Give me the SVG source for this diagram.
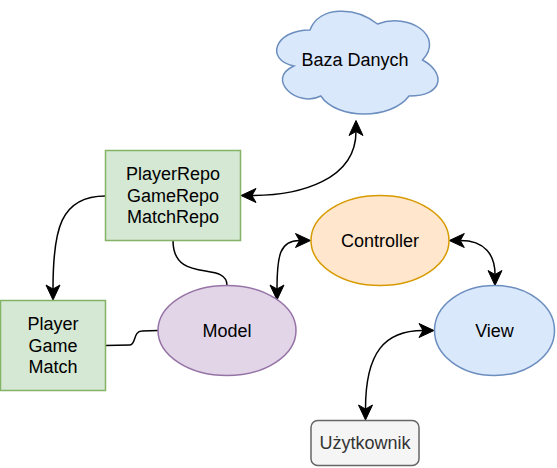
<svg xmlns="http://www.w3.org/2000/svg" width="557" height="468" viewBox="0 0 557 468">
<style>
  text { font-family: "Liberation Sans", Arial, sans-serif; font-size: 18px; fill: #000000; text-anchor: middle; }
  .edge { fill: none; stroke: #000000; stroke-width: 1.5; }
  .blue { fill: #dae8fc; stroke: #6c8ebf; stroke-width: 1.5; }
  .green { fill: #d5e8d4; stroke: #82b366; stroke-width: 1.5; }
  .purple { fill: #e1d5e7; stroke: #9673a6; stroke-width: 1.5; }
  .orange { fill: #ffe6cc; stroke: #d79b00; stroke-width: 1.5; }
  .grey { fill: #f5f5f5; stroke: #666666; stroke-width: 1.5; }
</style>
<defs>
  <marker id="arrow" markerUnits="userSpaceOnUse" markerWidth="30" markerHeight="30" refX="0" refY="0" orient="auto-start-reverse" overflow="visible" viewBox="-15 -15 30 30">
    <path d="M 11 0 L -4 -7 L 0 0 L -4 7 Z" fill="#000000" stroke="#000000" stroke-width="1"/>
  </marker>
</defs>
<rect width="557" height="468" fill="#ffffff"/>
<g id="connectors">
  <path class="edge" d="M 356 131.5 C 356 180, 300 195.5, 252 195.5" marker-start="url(#arrow)" marker-end="url(#arrow)"/>
  <path class="edge" d="M 105.5 196 C 60 196, 53 230, 53 289" marker-end="url(#arrow)"/>
  <path class="edge" d="M 173 240.5 C 173 285, 227 260, 227 285.5"/>
  <path class="edge" d="M 105.5 345.5 L 130 345 C 136 345, 133 331, 142 331 L 158 330.5"/>
  <path class="edge" d="M 277 289 C 277 255, 280 240.5, 299.5 240.5" marker-start="url(#arrow)" marker-end="url(#arrow)"/>
  <path class="edge" d="M 460.3 240.5 C 485 240.5, 495 255, 495 274.5" marker-start="url(#arrow)" marker-end="url(#arrow)"/>
  <path class="edge" d="M 365.5 409 C 365.5 352, 385 330.5, 423 330.5" marker-start="url(#arrow)" marker-end="url(#arrow)"/>
</g>
<g id="baza-danych">
  <path class="blue" transform="translate(265 0)" d="M 45 30 C 9 30 0 60 28.8 66 C 0 79.2 32.4 108 55.8 96 C 72 120 126 120 144 96 C 180 96 180 72 157.5 60 C 180 36 144 12 112.5 24 C 90 6 54 6 45 30 Z"/>
  <text x="355" y="66.3">Baza Danych</text>
</g>
<g id="repos">
  <rect class="green" x="105.5" y="150.5" width="135" height="90"/>
  <text x="173" y="180.2">PlayerRepo</text>
  <text x="173" y="201.8">GameRepo</text>
  <text x="173" y="223.4">MatchRepo</text>
</g>
<g id="entities">
  <rect class="green" x="0.5" y="300.5" width="105" height="90"/>
  <text x="53" y="330.2">Player</text>
  <text x="53" y="351.8">Game</text>
  <text x="53" y="373.4">Match</text>
</g>
<g id="model">
  <ellipse class="purple" cx="227" cy="330.5" rx="69" ry="45"/>
  <text x="227" y="336.8">Model</text>
</g>
<g id="controller">
  <ellipse class="orange" cx="380" cy="240.5" rx="69" ry="45"/>
  <text x="380" y="246.8">Controller</text>
</g>
<g id="view">
  <ellipse class="blue" cx="494.5" cy="330.5" rx="60" ry="45"/>
  <text x="494.5" y="336.8">View</text>
</g>
<g id="uzytkownik">
  <rect class="grey" x="311" y="420.5" width="108" height="45" rx="6.75" ry="6.75"/>
  <text x="365" y="449.3" style="fill:#333333">Użytkownik</text>
</g>
</svg>
